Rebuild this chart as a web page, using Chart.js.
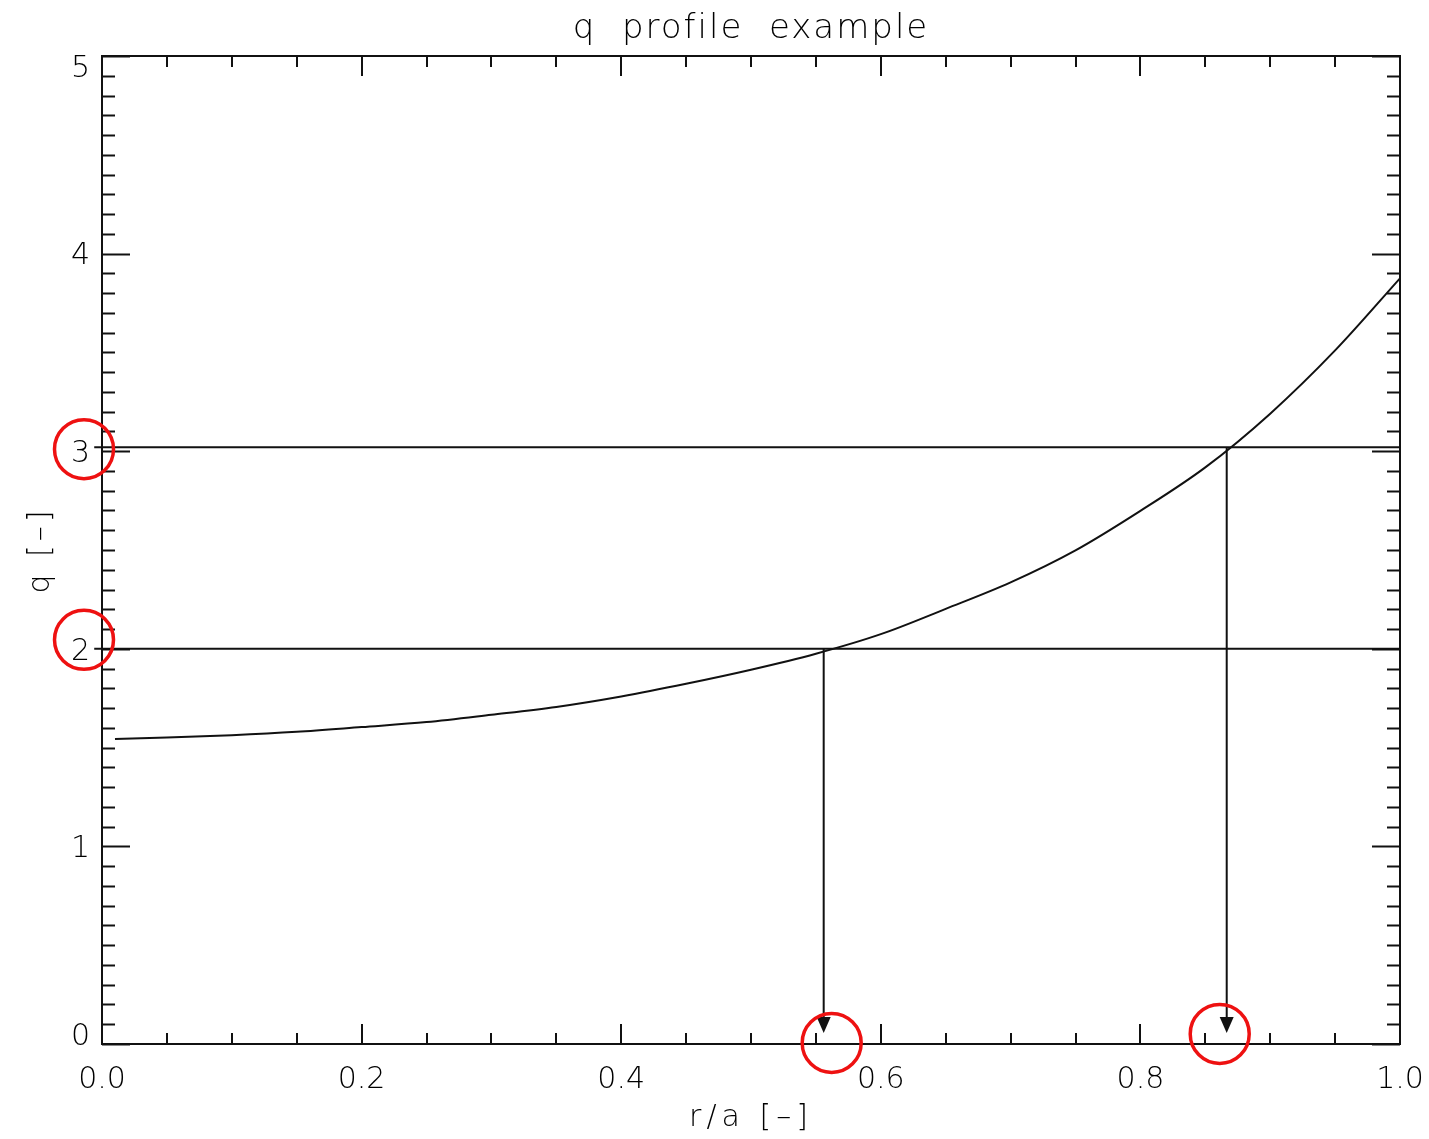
<!DOCTYPE html>
<html>
<head>
<meta charset="utf-8">
<title>q profile example</title>
<script src="https://cdn.jsdelivr.net/npm/chart.js@4.4.0/dist/chart.umd.min.js"></script>
<style>
  html, body { margin: 0; padding: 0; background: #fff; }
  #contenedor { width: 1429px; height: 1139px; }
</style>
</head>
<body>
<div id="contenedor"><canvas id="grafico_q"></canvas></div>
<script>
// q profile read along r/a
const rPoints = [0.01, 0.05, 0.10, 0.15, 0.20, 0.25, 0.30, 0.35, 0.40, 0.45, 0.50,
                 0.55, 0.60, 0.65, 0.70, 0.75, 0.80, 0.85, 0.90, 0.95, 1.00];
const qPoints = [1.544, 1.551, 1.563, 1.580, 1.604, 1.629, 1.666, 1.706, 1.759, 1.823, 1.894,
                 1.975, 2.074, 2.202, 2.336, 2.498, 2.698, 2.918, 3.190, 3.510, 3.875];

// rational surfaces q = 3 and q = 2, and where they cross the profile
const qLevels = [3.02, 2.0];
const rCross = [0.8665, 0.556];
const guideFrom = -0.006;
const guideTo = 1.0;
const arrowTip = 0.056;

const xTickLabels = ['0.0', '0.2', '0.4', '0.6', '0.8', '1.0'];
const yTickLabels = ['0', '1', '2', '3', '4', '5'];

const FONT = "'DejaVu Sans', sans-serif";
const INK = '#111';

let datasets = [{
    data: rPoints.map((r, i) => ({ x: r, y: qPoints[i] })),
    borderColor: INK,
    borderWidth: 2,
    pointRadius: 0,
    cubicInterpolationMode: 'monotone'
}];

for (let i = 0; i < qLevels.length; i++) {
    datasets.push({
        data: [{ x: guideFrom, y: qLevels[i] }, { x: guideTo, y: qLevels[i] }],
        borderColor: INK, borderWidth: 2, pointRadius: 0, clip: false
    });
    datasets.push({
        data: [{ x: rCross[i], y: qLevels[i] }, { x: rCross[i], y: arrowTip + 0.05 }],
        borderColor: INK, borderWidth: 2, pointRadius: 0, clip: false
    });
}

function linea(ctx, x1, y1, x2, y2) {
    ctx.beginPath();
    ctx.moveTo(x1, y1);
    ctx.lineTo(x2, y2);
    ctx.stroke();
}

// IDL style frame: ticks inside on all four sides, labels drawn by hand
const ejesIDL = {
    id: 'ejesIDL',
    afterDatasetsDraw(chart) {
        const ctx = chart.ctx;
        const a = chart.chartArea;
        const x = chart.scales.x;
        const y = chart.scales.y;

        ctx.save();

        // arrow heads at the bottom of each vertical line
        ctx.fillStyle = INK;
        rCross.forEach(function (r) {
            const px = x.getPixelForValue(r);
            const tip = y.getPixelForValue(arrowTip);
            ctx.beginPath();
            ctx.moveTo(px, tip);
            ctx.lineTo(px - 7, tip - 16);
            ctx.lineTo(px + 7, tip - 16);
            ctx.closePath();
            ctx.fill();
        });

        ctx.strokeStyle = INK;
        ctx.lineWidth = 2;
        ctx.strokeRect(a.left, a.top, a.right - a.left, a.bottom - a.top);

        for (let i = 0; i <= 20; i++) {
            const px = Math.round(x.getPixelForValue(i * 0.05));
            const len = (i % 4 === 0) ? 20 : 11;
            linea(ctx, px, a.bottom, px, a.bottom - len);
            linea(ctx, px, a.top, px, a.top + len);
        }
        for (let i = 0; i <= 50; i++) {
            const py = Math.round(y.getPixelForValue(i * 0.1)) + 0.5;
            const len = (i % 10 === 0) ? 28 : 13;
            linea(ctx, a.left, py, a.left + len, py);
            linea(ctx, a.right, py, a.right - len, py);
        }

        ctx.fillStyle = '#000';
        ctx.font = '200 30px ' + FONT;

        ctx.textAlign = 'center';
        ctx.textBaseline = 'top';
        xTickLabels.forEach(function (t) {
            ctx.fillText(t, x.getPixelForValue(Number(t)), a.bottom + 21);
        });

        ctx.textAlign = 'right';
        ctx.textBaseline = 'middle';
        yTickLabels.forEach(function (t, i) {
            let py = y.getPixelForValue(Number(t)) + 3;
            if (i === 0) py -= 10;
            if (i === yTickLabels.length - 1) py += 10;
            ctx.fillText(t, a.left - 12, py);
        });

        // titles
        const cx = (a.left + a.right) / 2;
        ctx.textAlign = 'center';
        ctx.textBaseline = 'alphabetic';
        ctx.letterSpacing = '2px';
        ctx.font = '200 34px ' + FONT;
        ctx.fillText('q  profile  example', cx, 38);

        ctx.letterSpacing = '5px';
        ctx.font = '200 30px ' + FONT;
        ctx.fillText('r/a [\u2013]', cx, 1126);

        ctx.save();
        ctx.translate(49, (a.top + a.bottom) / 2);
        ctx.rotate(-Math.PI / 2);
        ctx.letterSpacing = '4px';
        ctx.fillText('q [\u2013]', 0, 0);
        ctx.restore();

        // red circles around the rational values
        ctx.strokeStyle = '#ee1111';
        ctx.lineWidth = 3.5;
        const circulos = [
            [a.left - 18, y.getPixelForValue(3) - 2],
            [a.left - 18, y.getPixelForValue(2) - 9],
            [x.getPixelForValue(rCross[1]) + 8, y.getPixelForValue(arrowTip) + 10],
            [x.getPixelForValue(rCross[0]) - 7, y.getPixelForValue(arrowTip) + 1]
        ];
        circulos.forEach(function (c) {
            ctx.beginPath();
            ctx.arc(c[0], c[1], 29.5, 0, Math.PI * 2);
            ctx.stroke();
        });

        ctx.restore();
    }
};

new Chart(document.getElementById('grafico_q'), {
    type: 'line',
    data: { datasets: datasets },
    options: {
        responsive: true,
        maintainAspectRatio: false,
        animation: false,
        layout: { padding: { left: 102, right: 29, top: 56, bottom: 95 } },
        plugins: { legend: { display: false }, tooltip: { enabled: false }, title: { display: false } },
        scales: {
            x: { type: 'linear', min: 0, max: 1, display: false },
            y: { type: 'linear', min: 0, max: 5, display: false }
        }
    },
    plugins: [ejesIDL]
});
</script>
</body>
</html>
